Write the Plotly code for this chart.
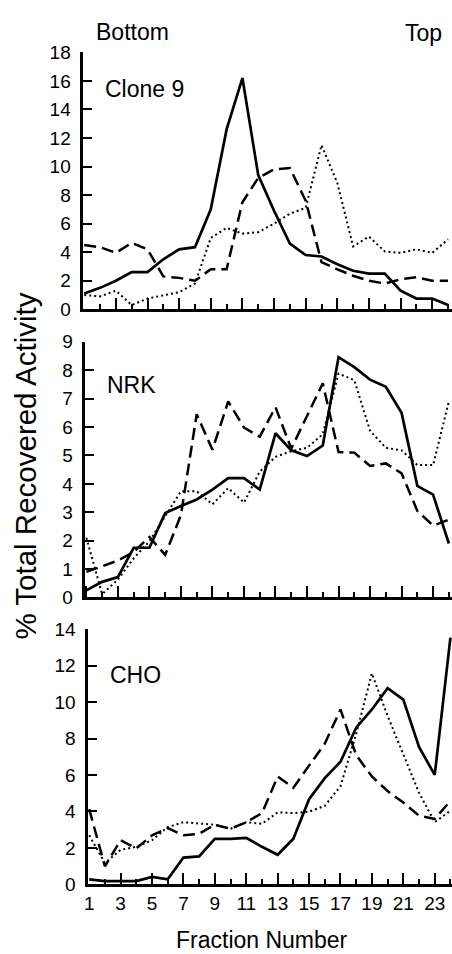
import plotly.graph_objects as go

fractions = list(range(1, 25))

clone9_solid = [1.1, 1.5, 2.0, 2.6, 2.6, 3.5, 4.2, 4.35, 7.0, 12.6, 16.2, 9.4,
                6.9, 4.6, 3.8, 3.7, 3.15, 2.7, 2.5, 2.5, 1.3, 0.75, 0.75, 0.3]
clone9_dashed = [4.5, 4.35, 3.95, 4.65, 4.2, 2.3, 2.2, 2.0, 2.8, 2.8, 7.5, 9.2,
                 9.8, 9.9, 7.6, 3.3, 2.8, 2.35, 2.0, 1.8, 2.1, 2.25, 2.0, 2.0]
clone9_dotted = [1.0, 0.9, 1.3, 0.3, 0.75, 1.0, 1.2, 1.8, 5.0, 5.7, 5.3, 5.4,
                 6.0, 6.7, 7.1, 11.5, 8.85, 4.4, 5.1, 4.05, 3.95, 4.2, 3.95, 4.9]

nrk_solid = [0.25, 0.55, 0.72, 1.75, 1.75, 2.97, 3.22, 3.45, 3.8, 4.2, 4.2, 3.8,
             5.78, 5.18, 4.98, 5.35, 8.46, 8.11, 7.67, 7.42, 6.5, 3.93, 3.62, 1.9]
nrk_dashed = [0.9, 1.1, 1.3, 1.6, 2.13, 1.5, 2.9, 6.45, 5.2, 6.9, 5.98, 5.66,
              6.7, 5.24, 6.4, 7.54, 5.12, 5.1, 4.63, 4.72, 4.37, 3.05, 2.53, 2.74]
nrk_dotted = [2.1, 0.12, 0.63, 1.38, 1.98, 2.85, 3.74, 3.74, 3.28, 3.85, 3.34, 4.43,
              4.95, 5.15, 5.27, 5.75, 7.88, 7.65, 5.87, 5.27, 5.18, 4.66, 4.66, 6.9]

cho_solid = [0.27, 0.18, 0.18, 0.18, 0.41, 0.27, 1.47, 1.53, 2.5, 2.5, 2.55, 2.06,
             1.62, 2.5, 4.67, 5.83, 6.73, 8.6, 9.6, 10.77, 10.14, 7.54, 6.01, 13.55]
cho_dashed = [4.13, 0.99, 2.42, 1.97, 2.69, 3.09, 2.69, 2.78, 3.27, 3.05, 3.41, 3.91,
              5.92, 5.3, 6.52, 7.72, 9.6, 7.09, 5.92, 5.12, 4.49, 3.77, 3.59, 4.58]
cho_dotted = [2.69, 1.17, 1.89, 2.06, 2.42, 3.14, 3.41, 3.32, 3.27, 3.05, 3.41, 3.32,
              3.95, 3.91, 3.99, 4.31, 5.39, 8.26, 11.58, 9.25, 7.18, 5.03, 3.41, 4.04]

panel_names = ["Clone 9", "NRK", "CHO"]
y_ticks = [list(range(0, 19, 2)), list(range(0, 10)), list(range(0, 15, 2))]
x_tick_labels = [str(v) for v in range(1, 24, 2)]

W, H = 452, 954
FONT = "Liberation Sans, Arial, Helvetica, sans-serif"

series = [
    (clone9_solid, clone9_dashed, clone9_dotted),
    (nrk_solid, nrk_dashed, nrk_dotted),
    (cho_solid, cho_dashed, cho_dotted),
]

# pixel geometry of each panel: (x_left, y_top, y_bottom, x_range)
geom = [
    (80, 43.3, 306.0, [0.94, 24.25]),
    (82, 339.3, 600.7, [0.93, 24.2]),
    (85, 633.3, 894.0, [0.94, 24.1]),
]
y_ranges = [[0, 18], [0, 9], [0, 14]]

fig = go.Figure()
styles = [
    dict(color="black", width=2.7, dash="solid"),
    dict(color="black", width=2.5, dash="12px,6px"),
    dict(color="black", width=2.0, dash="2px,3px"),
]

layout = dict(
    width=W, height=H,
    margin=dict(l=0, r=0, t=0, b=0),
    paper_bgcolor="white", plot_bgcolor="white",
    showlegend=False,
    font=dict(family=FONT, color="black"),
)

annotations = []
for i, (vals, (xl, yt, yb, xr)) in enumerate(zip(series, geom)):
    n = "" if i == 0 else str(i + 1)
    for v, st in zip(vals, styles):
        fig.add_trace(go.Scatter(x=fractions, y=v, mode="lines", line=st,
                                 xaxis="x" + n, yaxis="y" + n, cliponaxis=False))
    last = (i == 2)
    layout["xaxis" + n] = dict(
        domain=[xl / W, 1.0], range=xr, anchor="y" + n,
        showgrid=False, zeroline=False, showline=True, linecolor="black", linewidth=2.5,
        ticks="inside", ticklen=12, tickwidth=2, tickcolor="black",
        tickvals=list(range(1, 24, 2)), ticktext=x_tick_labels,
        showticklabels=last, tickfont=dict(size=19, family=FONT, color="black"),
        minor=dict(ticks="inside", ticklen=6, tickwidth=2, tickcolor="black",
                   tickvals=list(range(2, 25, 2))),
    )
    layout["yaxis" + n] = dict(
        domain=[1 - yb / H, 1 - yt / H], range=y_ranges[i], anchor="x" + n,
        showgrid=False, zeroline=False, showline=True, linecolor="black", linewidth=2.5,
        ticks="inside", ticklen=9, tickwidth=2, tickcolor="black",
        tickvals=y_ticks[i], ticklabelstandoff=6,
        tickfont=dict(size=19, family=FONT, color="black"),
    )

label_pos = [(142, 80.5), (129, 383.5), (132.5, 679.5)]
for name, (cx, cy) in zip(panel_names, label_pos):
    annotations.append(dict(text=name, x=cx / W, y=1 - cy / H, xref="paper", yref="paper",
                            showarrow=False, font=dict(size=23, family=FONT, color="black"),
                            xanchor="center", yanchor="middle"))

annotations += [
    dict(text="Bottom", x=130 / W, y=1 - 23 / H, xref="paper", yref="paper", showarrow=False,
         font=dict(size=23, family=FONT, color="black"), xanchor="center", yanchor="middle"),
    dict(text="Top", x=423 / W, y=1 - 24 / H, xref="paper", yref="paper", showarrow=False,
         font=dict(size=23, family=FONT, color="black"), xanchor="center", yanchor="middle"),
    dict(text="Fraction Number", x=260.5 / W, y=1 - 951 / H, xref="paper", yref="paper",
         showarrow=False, font=dict(size=23, family=FONT, color="black"),
         xanchor="center", yanchor="middle"),
    dict(text="% Total Recovered Activity", x=22 / W, y=1 - 466 / H, xref="paper", yref="paper",
         showarrow=False, textangle=-90, font=dict(size=29.5, family=FONT, color="black"),
         xanchor="center", yanchor="middle"),
]
layout["annotations"] = annotations
fig.update_layout(**layout)
fig.write_html(
    "out.html",
    config={"displayModeBar": False},
    post_script="document.body.style.margin='0';document.body.style.overflow='hidden';",
)
